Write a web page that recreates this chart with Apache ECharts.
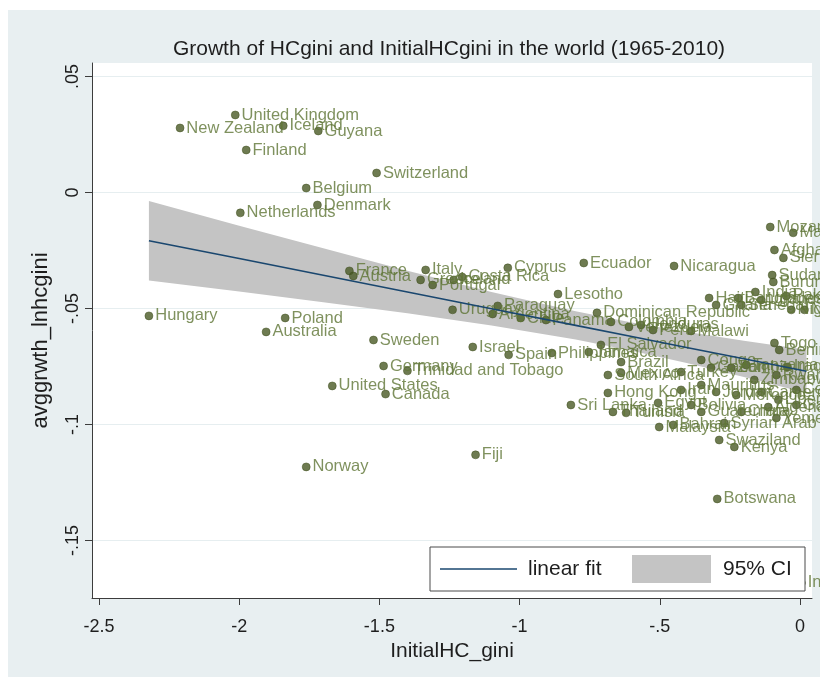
<!DOCTYPE html>
<html>
<head>
<meta charset="utf-8">
<script src="https://cdn.jsdelivr.net/npm/echarts@6/dist/echarts.min.js"></script>
<style>
  html, body { margin: 0; padding: 0; background: #ffffff; }
  #frame { position: absolute; left: 8px; top: 10px; width: 812px; height: 667px; background: #e8eff1; }
  #chart { position: absolute; left: 0; top: 0; width: 820px; height: 685px; }
</style>
</head>
<body>
<div id="frame"></div>
<div id="chart"></div>
<script>
// Country-level observations: initial human-capital Gini (log) vs. its average growth
const countries = [
  'United Kingdom', 'New Zealand', 'Iceland', 'Guyana', 'Finland', 'Switzerland', 'Belgium', 'Denmark', 'Netherlands',
  'Hungary', 'Poland', 'Australia', 'Sweden', 'Germany', 'Trinidad and Tobago', 'United States', 'Canada', 'Norway',
  'Israel', 'Fiji', 'France', 'Austria', 'Italy', 'Greece', 'Portugal', 'Ireland', 'Costa Rica', 'Cyprus', 'Ecuador',
  'Nicaragua', 'Lesotho', 'Uruguay', 'Paraguay', 'Argentina', 'Chile', 'Panama', 'Dominican Republic', 'Colombia',
  'Honduras', 'Venezuela', 'Peru', 'Malawi', 'Spain', 'Philippines', 'Jamaica', 'El Salvador', 'Brazil', 'Mexico',
  'South Africa', 'Turkey', 'Hong Kong', 'Sri Lanka', 'Thailand', 'Tunisia', 'Egypt', 'Iran', 'Bolivia', 'Malaysia',
  'Bahrain', 'Syrian Arab Republic', 'Swaziland', 'Kenya', 'Algeria', 'Botswana', 'Cameroon', 'Zimbabwe', 'Iraq',
  'Togo', 'Benin', 'Mozambique', 'Mali', 'Afghanistan', 'Sierra Leone', 'Sudan', 'Burundi', 'India', 'Bangladesh',
  'Pakistan', 'Nepal', 'Haiti', 'Ghana', 'Senegal', 'Uganda', 'Niger', 'Indonesia', 'Congo', 'Gabon', 'Zambia',
  'Tanzania', 'Rwanda', 'Mauritius', 'Jordan', 'Morocco', 'Liberia', 'Gambia', 'Guatemala', 'China', 'Yemen',
  'Central African Republic'
];
const initialHC = [
  -2.014, -2.211, -1.843, -1.718, -1.975, -1.510, -1.761, -1.721, -1.996,
  -2.322, -1.836, -1.904, -1.521, -1.485, -1.400, -1.668, -1.478, -1.761,
  -1.167, -1.157, -1.607, -1.593, -1.335, -1.353, -1.310, -1.235, -1.205, -1.042, -0.771,
  -0.449, -0.863, -1.239, -1.078, -1.096, -0.996, -0.906, -0.724, -0.674,
  -0.567, -0.610, -0.524, -0.388, -1.039, -0.885, -0.753, -0.710, -0.638, -0.638,
  -0.685, -0.424, -0.685, -0.817, -0.667, -0.620, -0.506, -0.424, -0.388, -0.502,
  -0.452, -0.270, -0.288, -0.234, -0.113, -0.295, -0.138, -0.163, -0.045,
  -0.091, -0.074, -0.106, -0.024, -0.091, -0.059, -0.099, -0.095, -0.159, -0.220,
  -0.049, 0.016, -0.324, -0.299, -0.209, -0.138, -0.031, 0.005, -0.352, -0.317, -0.245,
  -0.192, -0.084, -0.352, -0.299, -0.227, -0.077, -0.013, -0.352, -0.209, -0.084,
  -0.013
];
const growth = [
  0.0334, 0.0278, 0.0287, 0.0265, 0.0183, 0.0084, 0.0019, -0.0054, -0.0088,
  -0.0532, -0.0541, -0.0601, -0.0636, -0.0748, -0.0769, -0.0834, -0.0869, -0.1183,
  -0.0666, -0.1131, -0.0338, -0.0360, -0.0334, -0.0377, -0.0399, -0.0377, -0.0364, -0.0325, -0.0304,
  -0.0317, -0.0438, -0.0506, -0.0489, -0.0524, -0.0541, -0.0550, -0.0519, -0.0558,
  -0.0571, -0.0580, -0.0593, -0.0597, -0.0700, -0.0692, -0.0688, -0.0657, -0.0731, -0.0778,
  -0.0787, -0.0774, -0.0864, -0.0916, -0.0946, -0.0950, -0.0907, -0.0851, -0.0916, -0.1011,
  -0.1002, -0.0994, -0.1067, -0.1097, -0.0925, -0.1321, -0.0860, -0.0808, -0.0752,
  -0.0649, -0.0679, -0.0149, -0.0174, -0.0248, -0.0282, -0.0356, -0.0386, -0.0429, -0.0455,
  -0.0446, -0.0506, -0.0455, -0.0485, -0.0485, -0.0463, -0.0506, -0.1683, -0.0722, -0.0756, -0.0756,
  -0.0744, -0.0787, -0.0830, -0.0860, -0.0873, -0.0894, -0.0916, -0.0946, -0.0946, -0.0972,
  -0.0851
];

// Linear fit and its 95% confidence band
const fitX   = [-2.322, -2.0, -1.7, -1.4, -1.1, -0.8, -0.6, -0.4, -0.2, 0.023];
const fitY   = [-0.0208, -0.0285, -0.0357, -0.0429, -0.0501, -0.0573, -0.0621, -0.0669, -0.0717, -0.0771];
const ciLow  = [-0.0379, -0.0427, -0.0473, -0.0521, -0.0573, -0.0634, -0.0682, -0.0736, -0.0795, -0.0864];
const ciHigh = [-0.0037, -0.0143, -0.0241, -0.0337, -0.0429, -0.0512, -0.0560, -0.0602, -0.0639, -0.0678];

// Axis ticks
const xTicks = [-2.5, -2, -1.5, -1, -0.5, 0];
const xTickLabels = ['-2.5', '-2', '-1.5', '-1', '-.5', '0'];
const yTicks = [0.05, 0, -0.05, -0.1, -0.15];
const yTickLabels = ['.05', '0', '-.05', '-.1', '-.15'];

const FONT = '"Liberation Sans", Arial, sans-serif';
const AXIS_COLOR = '#3c3c3c';
const TEXT_COLOR = '#1e1e1e';

function tickText(ticks, labels) {
  return function (v) {
    const i = ticks.findIndex(t => Math.abs(t - v) < 1e-9);
    return i >= 0 ? labels[i] : '';
  };
}

const points = countries.map((c, i) => ({ name: c, value: [initialHC[i], growth[i]] }));
const fitLine = fitX.map((x, i) => [x, fitY[i]]);
const band = fitX.map((x, i) => [x, ciLow[i], ciHigh[i]]);

const chart = echarts.init(document.getElementById('chart'), null, { renderer: 'canvas' });

chart.setOption({
  animation: false,
  backgroundColor: 'transparent',
  title: {
    text: 'Growth of HCgini and InitialHCgini in the world (1965-2010)',
    left: 444,
    top: 34,
    textAlign: 'center',
    textStyle: { fontFamily: FONT, fontSize: 21, fontWeight: 'normal', color: TEXT_COLOR }
  },
  grid: {
    left: 92, right: 8, top: 63, bottom: 87,
    show: true, backgroundColor: '#ffffff', borderWidth: 0
  },
  xAxis: {
    type: 'value',
    min: -2.525,
    max: 0.043,
    name: 'InitialHC_gini',
    nameLocation: 'middle',
    nameGap: 39,
    nameTextStyle: { fontFamily: FONT, fontSize: 21, color: TEXT_COLOR },
    axisLine: { show: true, onZero: false, lineStyle: { color: AXIS_COLOR, width: 1 } },
    axisTick: { show: true, length: 7, customValues: xTicks, lineStyle: { color: AXIS_COLOR } },
    axisLabel: {
      customValues: xTicks, formatter: tickText(xTicks, xTickLabels),
      fontFamily: FONT, fontSize: 18, color: TEXT_COLOR, margin: 20
    },
    splitLine: { show: false }
  },
  yAxis: {
    type: 'value',
    min: -0.1748,
    max: 0.0558,
    name: 'avggrwth_lnhcgini',
    nameLocation: 'middle',
    nameGap: 40,
    nameTextStyle: { fontFamily: FONT, fontSize: 22, color: TEXT_COLOR, padding: [0, 20, 0, 0] },
    axisLine: { show: true, onZero: false, lineStyle: { color: AXIS_COLOR, width: 1 } },
    axisTick: { show: true, length: 7, customValues: yTicks, lineStyle: { color: AXIS_COLOR } },
    axisLabel: {
      customValues: yTicks, formatter: tickText(yTicks, yTickLabels),
      rotate: 90, fontFamily: FONT, fontSize: 18, color: TEXT_COLOR, margin: 10
    },
    splitLine: { show: true, lineStyle: { color: '#e6eef0', width: 1 } }
  },
  series: [
    {
      name: '95% CI',
      type: 'custom',
      silent: true,
      z: 1,
      data: band,
      renderItem: function (params, api) {
        if (params.dataIndex !== 0) return null;
        const upper = band.map(d => api.coord([d[0], d[2]]));
        const lower = band.map(d => api.coord([d[0], d[1]])).reverse();
        return {
          type: 'polygon',
          shape: { points: upper.concat(lower) },
          style: { fill: '#c4c4c4', stroke: null }
        };
      }
    },
    {
      name: 'countries',
      type: 'scatter',
      z: 3,
      data: points,
      symbol: 'circle',
      symbolSize: 8,
      itemStyle: { color: '#4a5a25', borderColor: '#3d4b1c', borderWidth: 0.6 },
      label: {
        show: true,
        position: 'right',
        distance: 2,
        formatter: '{b}',
        fontFamily: FONT,
        fontSize: 16.5,
        color: '#5f7636'
      },
      emphasis: { disabled: true }
    },
    {
      name: 'linear fit',
      type: 'line',
      z: 4,
      silent: true,
      data: fitLine,
      showSymbol: false,
      symbol: 'none',
      lineStyle: { color: '#1a476f', width: 1.6 }
    }
  ],
  graphic: [
    { type: 'rect', z: 100, shape: { x: 430, y: 547, width: 375, height: 44 },
      style: { fill: '#ffffff', stroke: '#4a4a4a', lineWidth: 1 } },
    { type: 'line', z: 101, shape: { x1: 440, y1: 569, x2: 517, y2: 569 },
      style: { stroke: '#1a476f', lineWidth: 1.6 } },
    { type: 'text', z: 101, x: 528, y: 569,
      style: { text: 'linear fit', fontFamily: FONT, fontSize: 21, fill: TEXT_COLOR, verticalAlign: 'middle' } },
    { type: 'rect', z: 101, shape: { x: 632, y: 555, width: 79, height: 28 },
      style: { fill: '#c4c4c4' } },
    { type: 'text', z: 101, x: 723, y: 569,
      style: { text: '95% CI', fontFamily: FONT, fontSize: 21, fill: TEXT_COLOR, verticalAlign: 'middle' } }
  ]
});
</script>
</body>
</html>
